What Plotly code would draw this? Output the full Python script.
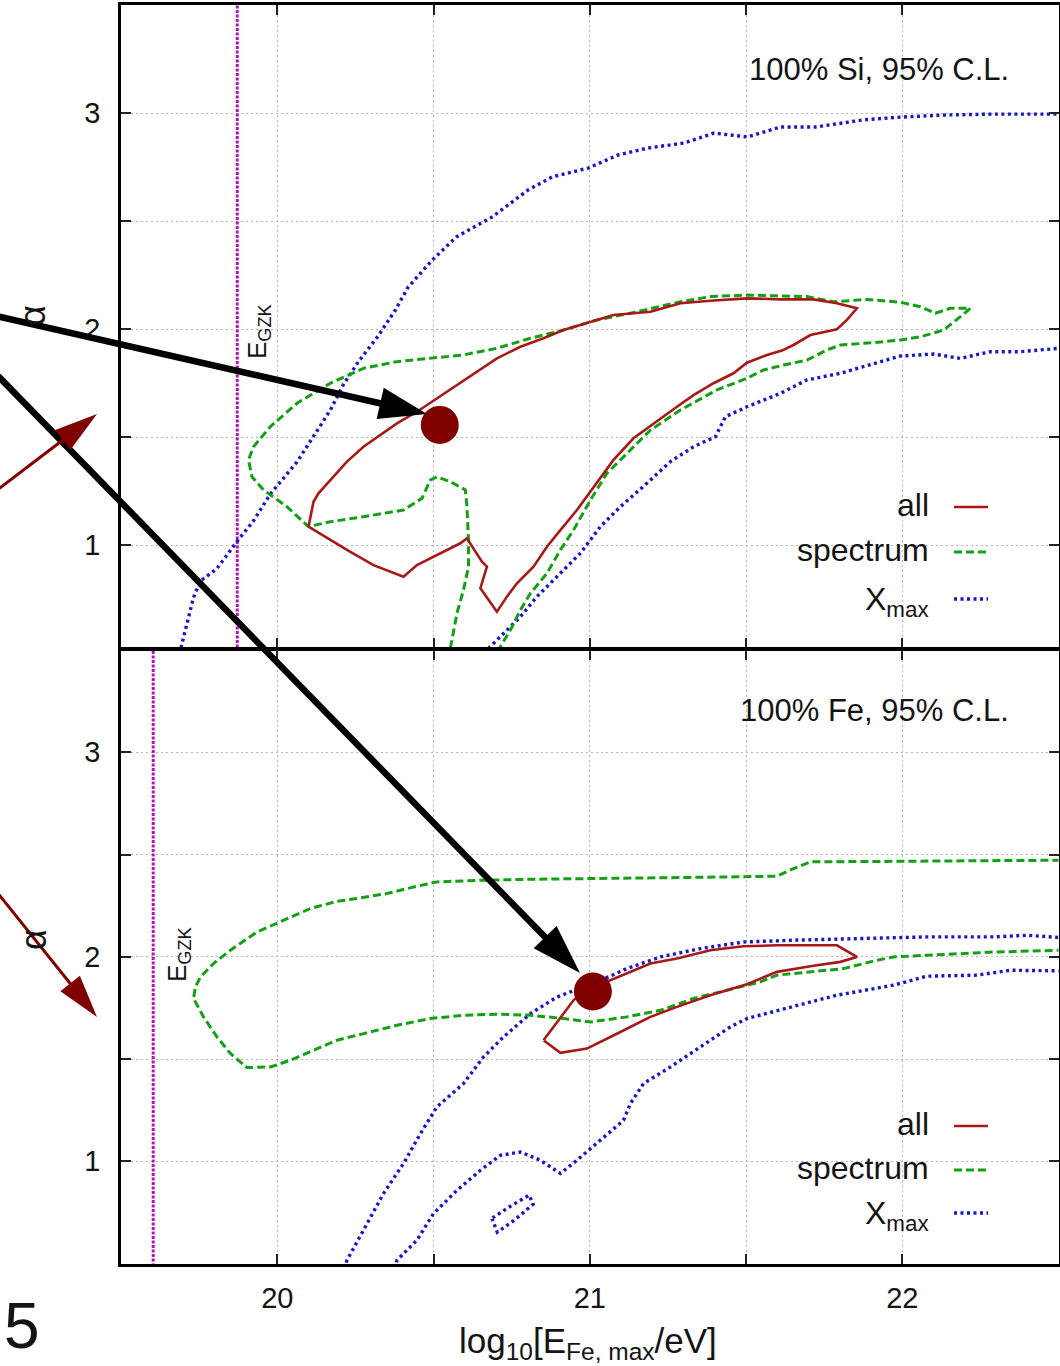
import plotly.graph_objects as go

W, H = 1060, 1366
FONT = "Liberation Sans, Arial, Helvetica, sans-serif"

RED = "#a81818"
GREEN = "#14a014"
BLUE = "#1818c8"
MAGENTA = "#b414b4"
BEST = "#800000"
INK = "#141414"

# axis ticks (log10 of maximum energy / spectral index alpha)
x_ticks = [20, 21, 22]
x_ticktext = ["20", "21", "22"]
x_minor = [20.5, 21.5]
y_ticks = [1, 2, 3]
y_ticktext = ["1", "2", "3"]
y_minor = [1.5, 2.5]

# ---------------- 100% Si, 95% C.L. ----------------
si_all_x = [20.100, 20.116, 20.132, 20.170, 20.223, 20.276, 20.330, 20.383, 20.447, 20.511,
            20.575, 20.639, 20.703, 20.778, 20.852, 20.916, 21.002, 21.076, 21.194, 21.290,
            21.386, 21.503, 21.610, 21.716, 21.791, 21.855, 21.823, 21.791, 21.706, 21.652,
            21.615, 21.567, 21.503, 21.460, 21.396, 21.332, 21.279, 21.204, 21.140, 21.076,
            21.012, 20.959, 20.906, 20.863, 20.820, 20.767, 20.735, 20.703, 20.650, 20.671,
            20.655, 20.607, 20.586, 20.511, 20.447, 20.404, 20.308, 20.223, 20.170, 20.100]
si_all_y = [1.085, 1.200, 1.239, 1.301, 1.386, 1.455, 1.509, 1.563, 1.617, 1.679,
            1.741, 1.802, 1.864, 1.918, 1.957, 1.995, 2.034, 2.065, 2.080, 2.119,
            2.131, 2.142, 2.137, 2.137, 2.119, 2.096, 2.042, 1.999, 1.972, 1.926,
            1.900, 1.880, 1.844, 1.795, 1.749, 1.694, 1.640, 1.563, 1.494, 1.394,
            1.270, 1.162, 1.069, 0.992, 0.900, 0.823, 0.761, 0.691, 0.800, 0.900,
            0.923, 1.031, 1.008, 0.954, 0.907, 0.853, 0.907, 0.977, 1.023, 1.085]

si_spec_x = [20.547, 20.575, 20.596, 20.612, 20.612, 20.607, 20.602, 20.554, 20.511, 20.490,
             20.463, 20.404, 20.276, 20.170, 20.100, 20.031, 19.956, 19.919, 19.908, 19.924,
             19.978, 20.063, 20.170, 20.276, 20.383, 20.490, 20.596, 20.703, 20.810, 20.916,
             21.023, 21.130, 21.290, 21.386, 21.503, 21.695, 21.780, 21.887, 21.994, 22.058,
             22.106, 22.154, 22.218, 22.186, 22.132, 22.058, 21.994, 21.908, 21.802, 21.759,
             21.695, 21.620, 21.556, 21.503, 21.407, 21.290, 21.194, 21.130, 21.055, 21.002,
             20.948, 20.906, 20.863, 20.810, 20.778, 20.746, 20.688]
si_spec_y = [0.468, 0.684, 0.792, 0.900, 1.023, 1.177, 1.255, 1.293, 1.316, 1.301,
             1.216, 1.162, 1.131, 1.108, 1.085, 1.177, 1.255, 1.316, 1.394, 1.455,
             1.548, 1.656, 1.749, 1.818, 1.849, 1.864, 1.880, 1.911, 1.957, 1.995,
             2.042, 2.073, 2.126, 2.150, 2.157, 2.150, 2.126, 2.137, 2.124, 2.103,
             2.073, 2.096, 2.096, 2.057, 1.995, 1.964, 1.949, 1.937, 1.926, 1.903,
             1.856, 1.833, 1.810, 1.772, 1.718, 1.625, 1.532, 1.440, 1.332, 1.208,
             1.069, 0.977, 0.869, 0.776, 0.699, 0.606, 0.468]

si_xmax_a_x = [19.677, 19.690, 19.732, 19.754, 19.807, 19.871, 19.924, 19.978, 20.063, 20.116,
               20.170, 20.211, 20.259, 20.323, 20.378, 20.419, 20.496, 20.573, 20.688, 20.803,
               20.880, 20.995, 21.091, 21.187, 21.302, 21.398, 21.504, 21.610, 21.722, 21.875,
               21.994, 22.144, 22.298, 22.506]
si_xmax_a_y = [0.468, 0.514, 0.757, 0.833, 0.891, 1.016, 1.112, 1.236, 1.384, 1.500,
               1.625, 1.741, 1.847, 1.968, 2.088, 2.194, 2.319, 2.426, 2.519, 2.644,
               2.704, 2.745, 2.806, 2.838, 2.861, 2.907, 2.889, 2.935, 2.935, 2.968,
               2.981, 2.991, 2.995, 2.995]

si_xmax_b_x = [20.656, 20.671, 20.703, 20.778, 20.831, 20.906, 20.970, 21.034, 21.098, 21.183,
               21.258, 21.332, 21.402, 21.434, 21.503, 21.610, 21.695, 21.802, 21.908, 21.994,
               22.100, 22.186, 22.282, 22.378, 22.506]
si_xmax_b_y = [0.468, 0.514, 0.560, 0.668, 0.761, 0.869, 0.962, 1.085, 1.177, 1.286,
               1.386, 1.455, 1.501, 1.594, 1.640, 1.702, 1.764, 1.795, 1.841, 1.875,
               1.884, 1.864, 1.895, 1.895, 1.911]

si_gzk = 19.872
si_best_x = [20.52]
si_best_y = [1.556]

# ---------------- 100% Fe, 95% C.L. ----------------
fe_all_x = [20.852, 20.895, 20.948, 21.002, 21.066, 21.194, 21.279, 21.386, 21.492, 21.599,
            21.791, 21.855, 21.802, 21.706, 21.599, 21.503, 21.386, 21.279, 21.194, 21.098,
            21.002, 20.991, 20.906, 20.852]
fe_all_y = [1.592, 1.681, 1.787, 1.861, 1.885, 1.967, 1.991, 2.032, 2.051, 2.056,
            2.056, 1.999, 1.975, 1.954, 1.926, 1.866, 1.812, 1.755, 1.706, 1.632,
            1.559, 1.551, 1.530, 1.592]

fe_spec_x = [22.506, 22.186, 21.972, 21.706, 21.652, 21.599, 21.439, 21.226, 21.012, 20.810,
             20.650, 20.511, 20.436, 20.351, 20.255, 20.191, 20.106, 20.010, 19.935, 19.850,
             19.796, 19.754, 19.738, 19.732, 19.764, 19.807, 19.850, 19.903, 19.978, 20.042,
             20.116, 20.191, 20.276, 20.383, 20.490, 20.596, 20.703, 20.810, 20.916, 21.002,
             21.119, 21.226, 21.332, 21.439, 21.546, 21.599, 21.706, 21.812, 21.919, 21.972,
             22.079, 22.292, 22.506]
fe_spec_y = [2.472, 2.468, 2.464, 2.464, 2.431, 2.394, 2.390, 2.387, 2.382, 2.379,
             2.374, 2.366, 2.341, 2.309, 2.285, 2.271, 2.236, 2.170, 2.121, 2.032,
             1.967, 1.901, 1.852, 1.796, 1.706, 1.608, 1.527, 1.458, 1.461, 1.494,
             1.543, 1.592, 1.624, 1.665, 1.698, 1.714, 1.719, 1.714, 1.698, 1.681,
             1.706, 1.738, 1.796, 1.836, 1.877, 1.910, 1.926, 1.942, 1.983, 1.999,
             2.007, 2.023, 2.032]

fe_xmax_a_x = [20.211, 20.223, 20.276, 20.340, 20.404, 20.458, 20.511, 20.596, 20.660, 20.724,
               20.810, 20.895, 20.938, 21.012, 21.119, 21.226, 21.354, 21.492, 21.652, 21.866,
               22.079, 22.292, 22.399, 22.506]
fe_xmax_a_y = [0.443, 0.516, 0.663, 0.842, 0.989, 1.135, 1.266, 1.380, 1.510, 1.608,
               1.722, 1.803, 1.828, 1.869, 1.942, 1.999, 2.040, 2.072, 2.081, 2.089,
               2.097, 2.097, 2.105, 2.094]

fe_xmax_b_x = [20.374, 20.383, 20.447, 20.500, 20.575, 20.650, 20.714, 20.778, 20.842, 20.906,
               20.959, 21.034, 21.108, 21.130, 21.172, 21.258, 21.354, 21.450, 21.503, 21.652,
               21.791, 21.972, 22.079, 22.239, 22.346, 22.506]
fe_xmax_b_y = [0.443, 0.516, 0.614, 0.744, 0.858, 0.956, 1.029, 1.045, 1.005, 0.940,
               1.005, 1.103, 1.200, 1.282, 1.380, 1.461, 1.559, 1.657, 1.698, 1.755,
               1.812, 1.861, 1.905, 1.910, 1.934, 1.931]

fe_xmax_c_x = [20.687, 20.704, 20.762, 20.819, 20.806, 20.746, 20.687]
fe_xmax_c_y = [0.721, 0.653, 0.716, 0.790, 0.834, 0.780, 0.721]

fe_gzk = 19.603
fe_best_x = [21.01]
fe_best_y = [1.83]

# ---------------------------------------------------------------
STYLE = {
    "all": dict(color=RED, width=2.6, dash="solid"),
    "spectrum": dict(color=GREEN, width=3, dash="8px,4px"),
    "xmax": dict(color=BLUE, width=3.4, dash="3px,3.5px"),
    "gzk": dict(color=MAGENTA, width=3, dash="3px,1.5px"),
}

fig = go.Figure()


def curve(x, y, style, xa, ya):
    fig.add_trace(go.Scatter(x=x, y=y, mode="lines", line=STYLE[style],
                             xaxis=xa, yaxis=ya, hoverinfo="skip", showlegend=False))


panels = [
    ("x", "y", si_gzk,
     [(si_xmax_a_x, si_xmax_a_y), (si_xmax_b_x, si_xmax_b_y)],
     [(si_spec_x, si_spec_y)],
     [(si_all_x, si_all_y)],
     (si_best_x, si_best_y)),
    ("x2", "y2", fe_gzk,
     [(fe_xmax_a_x, fe_xmax_a_y), (fe_xmax_b_x, fe_xmax_b_y), (fe_xmax_c_x, fe_xmax_c_y)],
     [(fe_spec_x, fe_spec_y)],
     [(fe_all_x, fe_all_y)],
     (fe_best_x, fe_best_y)),
]

for xa, ya, gzk, xmax, spec, allc, best in panels:
    curve([gzk, gzk], [0.4, 3.6], "gzk", xa, ya)
    for cx, cy in xmax:
        curve(cx, cy, "xmax", xa, ya)
    for cx, cy in spec:
        curve(cx, cy, "spectrum", xa, ya)
    for cx, cy in allc:
        curve(cx, cy, "all", xa, ya)
    fig.add_trace(go.Scatter(x=best[0], y=best[1], mode="markers",
                             marker=dict(color=BEST, size=38, line=dict(width=0)),
                             xaxis=xa, yaxis=ya, hoverinfo="skip", showlegend=False))


def px(x):
    return x / W


def py(y):
    return 1 - y / H


X_DOM = [121 / W, 1058.5 / W]
TOP_DOM = [py(647.5), py(5)]
BOT_DOM = [py(1263.5), py(650)]

GRID = dict(showgrid=True, gridcolor="#b5b5b5", gridwidth=1, griddash="2px,3px")
TICK = dict(ticks="inside", ticklen=10, tickwidth=1.5, tickcolor="#222")

axis_common = dict(
    showline=True, linecolor="black", linewidth=2.5, mirror="allticks",
    zeroline=False, tickfont=dict(family=FONT, size=29, color=INK),
    **TICK, **GRID,
)


def xaxis(anchor, labels):
    return dict(axis_common, domain=X_DOM, range=[19.5, 22.5], tickvals=x_ticks,
                ticktext=x_ticktext, showticklabels=labels, anchor=anchor,
                ticklabelstandoff=7, minor=dict(tickvals=x_minor, **TICK, **GRID))


def yaxis(anchor, dom, rng):
    return dict(axis_common, domain=dom, range=rng, tickvals=y_ticks,
                ticktext=y_ticktext, anchor=anchor, ticklabelstandoff=12,
                minor=dict(tickvals=y_minor, **TICK, **GRID))


fig.update_layout(
    width=W, height=H,
    margin=dict(l=0, r=0, t=0, b=0),
    paper_bgcolor="white", plot_bgcolor="white",
    showlegend=False,
    xaxis=xaxis("y", False),
    yaxis=yaxis("x", TOP_DOM, [0.5255, 3.5]),
    xaxis2=xaxis("y2", True),
    yaxis2=yaxis("x2", BOT_DOM, [0.5, 3.5]),
)


def text(t, x, y, size, **kw):
    kw.setdefault("xanchor", "center")
    kw.setdefault("yanchor", "middle")
    return dict(text=t, x=px(x), y=py(y), xref="paper", yref="paper", showarrow=False,
                font=dict(family=FONT, size=size, color=INK), **kw)


annotations = [
    text("100% Si, 95% C.L.", 1011, 70, 31, xanchor="right"),
    text("100% Fe, 95% C.L.", 1011, 711, 31, xanchor="right"),
    text("α", 33, 316, 36, textangle=-90),
    text("α", 33, 940, 36, textangle=-90),
    text("E<sub>GZK</sub>", 259, 332, 26, textangle=-90),
    text("E<sub>GZK</sub>", 178, 955, 26, textangle=-90),
    text("log<sub>10</sub>[E<sub>Fe, max</sub>/eV]", 588, 1343, 35),
    text("5", 2, 1364, 64, xanchor="left", yanchor="bottom"),
]

shapes = []

# key entries: label, style, row y-position (px) for each panel
key_rows = [
    [("all", "all", 505), ("spectrum", "spectrum", 550), ("X<sub>max</sub>", "xmax", 597)],
    [("all", "all", 1124), ("spectrum", "spectrum", 1168), ("X<sub>max</sub>", "xmax", 1211)],
]
for rows in key_rows:
    for label, style, yrow in rows:
        yt = yrow + (4 if style == "xmax" else 0)
        annotations.append(text(label, 931, yt, 32, xanchor="right"))
        st = STYLE[style]
        shapes.append(dict(type="line", xref="paper", yref="paper",
                           x0=px(954), x1=px(988), y0=py(yrow + 2), y1=py(yrow + 2),
                           line=dict(color=st["color"], width=st["width"], dash=st["dash"])))


def arrow(tail, tip, color, width, head_len, head_w):
    (x0, y0), (x1, y1) = tail, tip
    dx, dy = x1 - x0, y1 - y0
    n = (dx * dx + dy * dy) ** 0.5
    ux, uy = dx / n, dy / n
    bx, by = x1 - ux * head_len, y1 - uy * head_len
    nx, ny = -uy, ux
    shapes.append(dict(type="line", xref="paper", yref="paper",
                       x0=px(x0), y0=py(y0), x1=px(bx + ux * 3), y1=py(by + uy * 3),
                       line=dict(color=color, width=width), layer="above"))
    path = (f"M {px(x1)},{py(y1)} "
            f"L {px(bx + nx * head_w / 2)},{py(by + ny * head_w / 2)} "
            f"L {px(bx - nx * head_w / 2)},{py(by - ny * head_w / 2)} Z")
    shapes.append(dict(type="path", xref="paper", yref="paper", path=path,
                       fillcolor=color, line=dict(color=color, width=0), layer="above"))


# pointers to the best-fit points
arrow((-20, 312.4), (427, 414), "black", 6.5, 48, 32)
arrow((-20, 357.5), (580, 973), "black", 6.5, 50, 32)
# side pointers
arrow((-20, 503), (97, 414), "#800000", 3, 43, 25)
arrow((-20, 871), (97, 1017), "#800000", 3, 43, 25)

fig.update_layout(annotations=annotations, shapes=shapes)

fig.write_html("out.html")
